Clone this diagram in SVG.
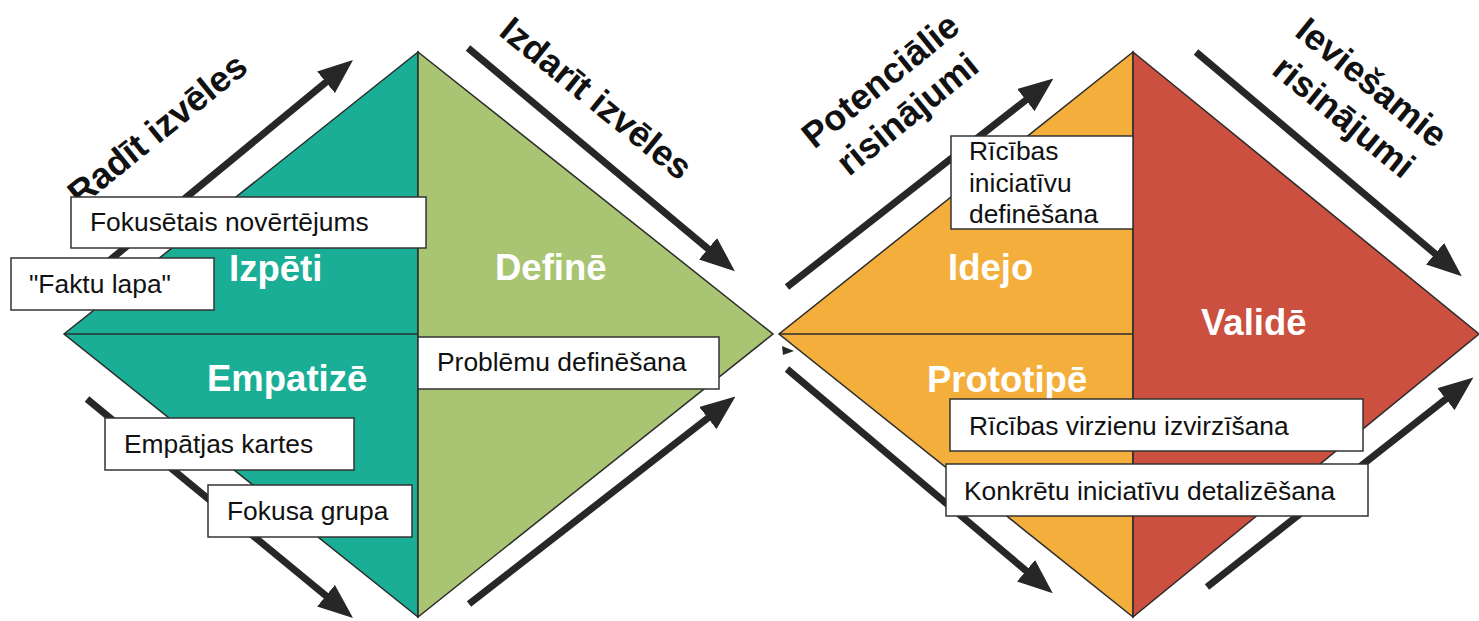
<svg xmlns="http://www.w3.org/2000/svg" width="1479" height="621" viewBox="0 0 1479 621">
<style>
.q{stroke:#2b2b2b;stroke-width:1.5;stroke-linejoin:miter}
.div{stroke:#2b2b2b;stroke-width:1.5;fill:none}
.box{fill:#ffffff;stroke:#333333;stroke-width:1.5}
.bt{font-family:"Liberation Sans",Arial,sans-serif;font-size:26.4px;fill:#111111}
.ph{font-family:"Liberation Sans",Arial,sans-serif;font-size:36.5px;font-weight:bold;fill:#ffffff}
.lab{font-family:"Liberation Sans",Arial,sans-serif;font-size:36px;font-weight:bold;fill:#111111;text-anchor:middle}
.arr{stroke:#272727;stroke-width:7;fill:none;marker-end:url(#ah)}
</style>
<defs>
<marker id="ah" viewBox="0 0 10 8" markerWidth="5" markerHeight="4" refX="2" refY="4" orient="auto" markerUnits="strokeWidth">
<path d="M0,0 L10,4 L0,8 z" fill="#272727"/>
</marker>
</defs>
<rect width="1479" height="621" fill="#ffffff"/>

<g id="node-izpeti">
<polygon class="q" points="418,52 64,334 418,617" fill="#1BAE96"/>
<line class="div" x1="64" y1="334" x2="418" y2="334"/>
<text class="ph" x="229" y="281">Izpēti</text>
<text class="ph" x="207" y="391">Empatizē</text>
</g>
<g id="node-define">
<polygon class="q" points="418,52 773,334 418,617" fill="#A9C472"/>
<text class="ph" x="495" y="280">Definē</text>
</g>
<g id="node-idejo">
<polygon class="q" points="1133,52 779,334 1133,617" fill="#F4AE3C"/>
<line class="div" x1="779" y1="334" x2="1133" y2="334"/>
<text class="ph" x="948" y="280">Idejo</text>
<text class="ph" x="927" y="392">Prototipē</text>
</g>
<g id="node-valide">
<polygon class="q" points="1133,52 1479,334 1133,617" fill="#CB503F"/>
<text class="ph" x="1201" y="335">Validē</text>
</g>
<polygon points="782,346 794,351 783,355" fill="#272727"/>

<g id="connectors">
<line class="arr" x1="87" y1="279" x2="331.4" y2="77.8"/>
<line class="arr" x1="468" y1="48" x2="713.4" y2="253.2"/>
<line class="arr" x1="87" y1="399" x2="331.4" y2="600.2"/>
<line class="arr" x1="469" y1="604" x2="713.4" y2="413.8"/>
<line class="arr" x1="787" y1="287" x2="1031.4" y2="95.8"/>
<line class="arr" x1="1196" y1="52" x2="1440.4" y2="258.2"/>
<line class="arr" x1="787" y1="369" x2="1031.4" y2="575.2"/>
<line class="arr" x1="1207" y1="587" x2="1451.4" y2="394.8"/>
</g>

<g id="label-radit"><text class="lab" transform="translate(165,139) rotate(-39)">Radīt izvēles</text></g>
<g id="label-izdarit"><text class="lab" transform="translate(588.5,108) rotate(39)">Izdarīt izvēles</text></g>
<g id="label-potencialie"><text class="lab" transform="translate(888,90) rotate(-39)"><tspan x="0" y="0">Potenciālie</tspan><tspan x="0" y="43">risinājumi</tspan></text></g>
<g id="label-ieviesamie"><text class="lab" transform="translate(1364,92) rotate(39)"><tspan x="0" y="0">Ieviešamie</tspan><tspan x="0" y="44">risinājumi</tspan></text></g>

<g id="box-fokusetais"><rect class="box" x="71" y="197" width="355" height="51"/><text class="bt" x="90" y="231">Fokusētais novērtējums</text></g>
<g id="box-faktu"><rect class="box" x="11" y="258" width="203" height="52"/><text class="bt" x="29" y="293">"Faktu lapa"</text></g>
<g id="box-empatjas"><rect class="box" x="105" y="418" width="249" height="52"/><text class="bt" x="124" y="453">Empātjas kartes</text></g>
<g id="box-fokusa"><rect class="box" x="208" y="485" width="204" height="52"/><text class="bt" x="227" y="520">Fokusa grupa</text></g>
<g id="box-problemu"><rect class="box" x="418" y="337" width="301" height="52"/><text class="bt" x="437" y="371">Problēmu definēšana</text></g>
<g id="box-ricibas-init"><rect class="box" x="951" y="136" width="182" height="93"/><text class="bt" x="969"><tspan x="969" y="160">Rīcības</tspan><tspan x="969" y="192">iniciatīvu</tspan><tspan x="969" y="223">definēšana</tspan></text></g>
<g id="box-ricibas-virz"><rect class="box" x="950" y="399" width="413" height="52"/><text class="bt" x="969" y="435">Rīcības virzienu izvirzīšana</text></g>
<g id="box-konkretu"><rect class="box" x="946" y="464" width="422" height="52"/><text class="bt" x="964" y="500">Konkrētu iniciatīvu detalizēšana</text></g>
</svg>
